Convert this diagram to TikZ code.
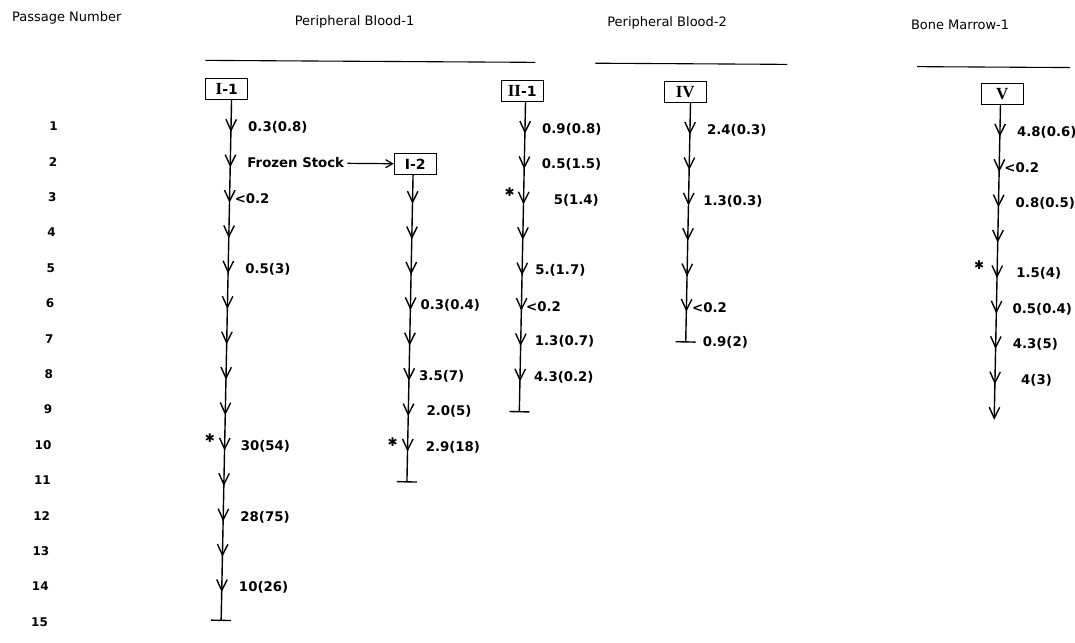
\documentclass[tikz,border=0pt]{standalone}
\usepackage{fontspec}
\setmainfont{DejaVu Sans}
\newfontfamily\romfont{Liberation Serif}
\usetikzlibrary{arrows.meta,positioning}

\newcommand{\rowy}[1]{127.4+35.4*(#1-1)}

\begin{document}
\begin{tikzpicture}[x=1pt,y=-1pt,
  head/.style={font=\fontsize{13}{15}\selectfont},
  num/.style={font=\fontsize{12}{14}\selectfont\bfseries,inner sep=0pt,anchor=east},
  lab/.style={font=\fontsize{13.3}{15}\selectfont\bfseries,inner sep=0pt},
  clone/.style={draw,line width=1pt,minimum width=42pt,minimum height=21pt,inner sep=1pt,font=\fontsize{14}{16}\selectfont\bfseries},
  roman/.style={font=\fontsize{17}{17}\romfont\bfseries},
  pass/.style={line width=1.4pt,shorten >=-4.5pt,-{Straight Barb[length=11pt,width=10.5pt]}},
  stop/.style={line width=1.4pt,-{Bar[width=20pt]}},
  feed/.style={line width=1.2pt,shorten <=3pt,-{Straight Barb[length=7pt,width=8pt]}},
  star/.style={font=\fontsize{12}{12}\selectfont,inner sep=0pt},
  rule/.style={line width=1.1pt}
]
\useasboundingbox (0,0) rectangle (1075,642);
\begin{scope}[shift={(225,127.4)},xslant=0.02,yslant=-0.006,shift={(-225,-127.4)}]

			% headings
			\node[head] (hpass) at (64.5,19) {Passage Number};
			\node[head] (hpb1) at (352.5,21) {Peripheral Blood-1};
			\node[head] (hpb2) at (665,20) {Peripheral Blood-2};
			\node[head] (hbm1) at (958,20.5) {Bone Marrow-1};
			\draw[rule] (204,60.5) -- (534,60.5);
			\draw[rule] (594,61) -- (786,61);
			\draw[rule] (916,62.5) -- (1069,62.5);

			% passage numbers
			\foreach \k in {1,...,15}
				\node[num] (p\k) at (58,{\rowy{\k}}) {\k};

			% Peripheral Blood-1, clone I-1
			\node[clone] (c11) at (226,89) {{\fontsize{17}{17}\romfont\bfseries I}-1};
			\foreach \k in {1,...,14}
				\coordinate (a\k) at (231,{\rowy{\k}});
			\coordinate (a15) at (231,{\rowy{15}-2});
			\draw[pass] (c11.south -| a1) -- (a1);
			\foreach \k [remember=\k as \j (initially 1)] in {2,...,14}
				\draw[pass] (a\j) -- (a\k);
			\draw[stop] (a14) -- (a15);

			\node[lab,right=17pt of a1] (l11) {0.3(0.8)};
			\node[lab,right=17pt of a2] (fs) {Frozen Stock};
			\node[lab,right=5pt of a3] {<0.2};
			\node[lab,right=17pt of a5] {0.5(3)};
			\node[lab,right=16pt of a10] {30(54)};
			\node[lab,right=17pt of a12] {28(75)};
			\node[lab,right=17pt of a14] {10(26)};
			\node[star] at ([shift={(-15,-8)}]a10) {✱};

			% clone I-2 from frozen stock
			\node[clone] (c12) at (416,{\rowy{2}}) {I-2};
			\foreach \k in {3,...,11}
				\coordinate (b\k) at (414,{\rowy{\k}});
			\draw[feed] (fs) -- (c12);
			\draw[pass] (c12.south -| b3) -- (b3);
			\foreach \k [remember=\k as \j (initially 3)] in {4,...,10}
				\draw[pass] (b\j) -- (b\k);
			\draw[stop] (b10) -- (b11);

			\node[lab,right=10pt of b6] {0.3(0.4)};
			\node[lab,right=10pt of b8] {3.5(7)};
			\node[lab,right=18pt of b9] {2.0(5)};
			\node[lab,right=18pt of b10] {2.9(18)};
			\node[star] at ([shift={(-15,-5)}]b10) {✱};

			% clone II-1
			\node[clone] (c21) at (521.5,89) {{\fontsize{17}{17}\romfont\bfseries II}-1};
			\foreach \k in {1,...,9}
				\coordinate (d\k) at (525,{\rowy{\k}});
			\draw[pass] (c21.south -| d1) -- (d1);
			\foreach \k [remember=\k as \j (initially 1)] in {2,...,8}
				\draw[pass] (d\j) -- (d\k);
			\draw[stop] (d8) -- (d9);

			\node[lab,right=17pt of d1] {0.9(0.8)};
			\node[lab,right=17.5pt of d2] {0.5(1.5)};
			\node[lab,right=30pt of d3] {5(1.4)};
			\node[lab,right=13pt of d5] {5.(1.7)};
			\node[lab,right=4.5pt of d6] {<0.2};
			\node[lab,right=14pt of d7] {1.3(0.7)};
			\node[lab,right=14pt of d8] {4.3(0.2)};
			\node[star] at ([shift={(-14,-8)}]d3) {✱};

			% Peripheral Blood-2, clone IV
			\node[clone,roman] (c4) at (684.5,89) {IV};
			\foreach \k in {1,...,7}
				\coordinate (e\k) at (690,{\rowy{\k}});
			\draw[pass] (c4.south -| e1) -- (e1);
			\foreach \k [remember=\k as \j (initially 1)] in {2,...,6}
				\draw[pass] (e\j) -- (e\k);
			\draw[stop] (e6) -- (e7);

			\node[lab,right=17pt of e1] {2.4(0.3)};
			\node[lab,right=14.5pt of e3] {1.3(0.3)};
			\node[lab,right=5.5pt of e6] {<0.2};
			\node[lab,right=17pt of e7] {0.9(2)};

			% Bone Marrow-1, clone V
			\node[clone,roman] (c5) at (1001.5,89) {V};
			\foreach \k in {1,...,9}
				\coordinate (f\k) at (1000,{\rowy{\k}});
			\draw[pass] (c5.south -| f1) -- (f1);
			\foreach \k [remember=\k as \j (initially 1)] in {2,...,9}
				\draw[pass] (f\j) -- (f\k);

			\node[lab,right=17pt of f1] {4.8(0.6)};
			\node[lab,right=5pt of f2] {<0.2};
			\node[lab,right=17pt of f3] {0.8(0.5)};
			\node[lab,right=19pt of f5] {1.5(4)};
			\node[lab,right=16pt of f6] {0.5(0.4)};
			\node[lab,right=17pt of f7] {4.3(5)};
			\node[lab,right=26pt of f8] {4(3)};
			\node[star] at ([shift={(-18,-8)}]f5) {✱};

\end{scope}
\end{tikzpicture}
\end{document}
